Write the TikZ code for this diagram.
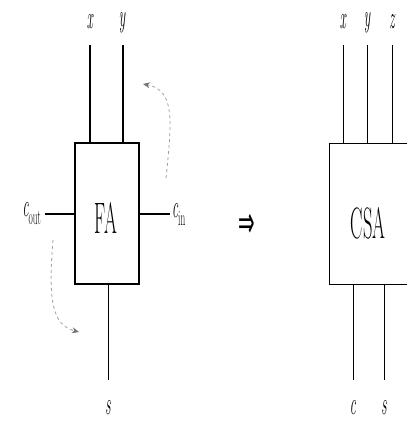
\documentclass[tikz,border=0pt]{standalone}
\usepackage{fontspec}
\usepackage{graphicx}
\newfontfamily\dvsans{DejaVu Sans}
\usetikzlibrary{arrows.meta}
\newcommand\sq[1]{\scalebox{0.42}[1]{#1}}
\newcommand\sub[1]{\raisebox{-0.25em}{\fontsize{22}{22}\selectfont #1}}
\begin{document}
\begin{tikzpicture}[x=1pt,y=-1pt,
  blk/.style={draw,line width=1.4pt,minimum width=64pt,minimum height=141pt,inner sep=0pt},
  wirethick/.style={line width=1.6pt},
  wirethin/.style={line width=0.9pt},
  lbl/.style={inner sep=0pt,font=\fontsize{32}{32}\selectfont\itshape},
  big/.style={inner sep=0pt,font=\fontsize{44}{44}\selectfont},
  flow/.style={gray!75,dashed,line width=0.8pt,-{Stealth[length=7pt,width=6pt,color=gray!90!black]}}]
\useasboundingbox (0,0) rectangle (407,429);
\clip (0,0) rectangle (407,429);
% FA block
\node[blk] (fa) at (107,213.5) {};
\node[big] (falbl) at (106,218) {\sq{FA}};
\coordinate (xt) at (90,45);
\coordinate (yt) at (123,45);
\draw[wirethick] (xt) -- (xt |- fa.north);
\draw[wirethick] (yt) -- (yt |- fa.north);
\node[lbl] (lx) at (90,22) {\sq{x}};
\node[lbl] (ly) at (122,23) {\sq{y}};
\coordinate (co) at (45,214);
\coordinate (ci) at (170,214);
\draw[wirethick] (co) -- (co -| fa.west);
\draw[wirethick] (ci) -- (ci -| fa.east);
\node[lbl,anchor=east] (lco) at (41,214) {\sq{c\sub{\upshape out}}};
\node[lbl,anchor=west] (lci) at (172,214) {\sq{c\sub{\upshape in}}};
\coordinate (sb) at (108,380);
\draw[wirethin] (sb |- fa.south) -- (sb);
\node[lbl] (ls) at (108,408) {\sq{s}};
% dashed feedback arrows
\coordinate (a1s) at (166,178);
\coordinate (a1e) at (143,84);
\draw[flow] (a1s) .. controls (172,120) and (175,90) .. (a1e);
\coordinate (a2s) at (53,240);
\coordinate (a2e) at (79,332);
\draw[flow] (a2s) .. controls (48,300) and (52,325) .. (a2e);
% implies
\node[inner sep=0pt,font=\fontsize{44}{44}\selectfont\dvsans] (imp) at (247,226) {\scalebox{0.45}[1]{⇒}};
% CSA block
\node[blk,minimum width=100pt,anchor=north west] (csa) at (329,143) {};
\node[big] (csalbl) at (368,223) {\sq{CSA}};
\coordinate (cx) at (343,45);
\coordinate (cy) at (367,45);
\coordinate (cz) at (392,45);
\draw[wirethin] (cx) -- (cx |- csa.north);
\draw[wirethin] (cy) -- (cy |- csa.north);
\draw[wirethin] (cz) -- (cz |- csa.north);
\node[lbl] (lcx) at (343,22) {\sq{x}};
\node[lbl] (lcy) at (367,23) {\sq{y}};
\node[lbl] (lcz) at (392,22) {\sq{z}};
\coordinate (cc) at (353,380);
\coordinate (cs) at (384,380);
\draw[wirethin] (cc |- csa.south) -- (cc);
\draw[wirethin] (cs |- csa.south) -- (cs);
\node[lbl] (lcc) at (353,408) {\sq{c}};
\node[lbl] (lcs) at (384,408) {\sq{s}};
\end{tikzpicture}
\end{document}
